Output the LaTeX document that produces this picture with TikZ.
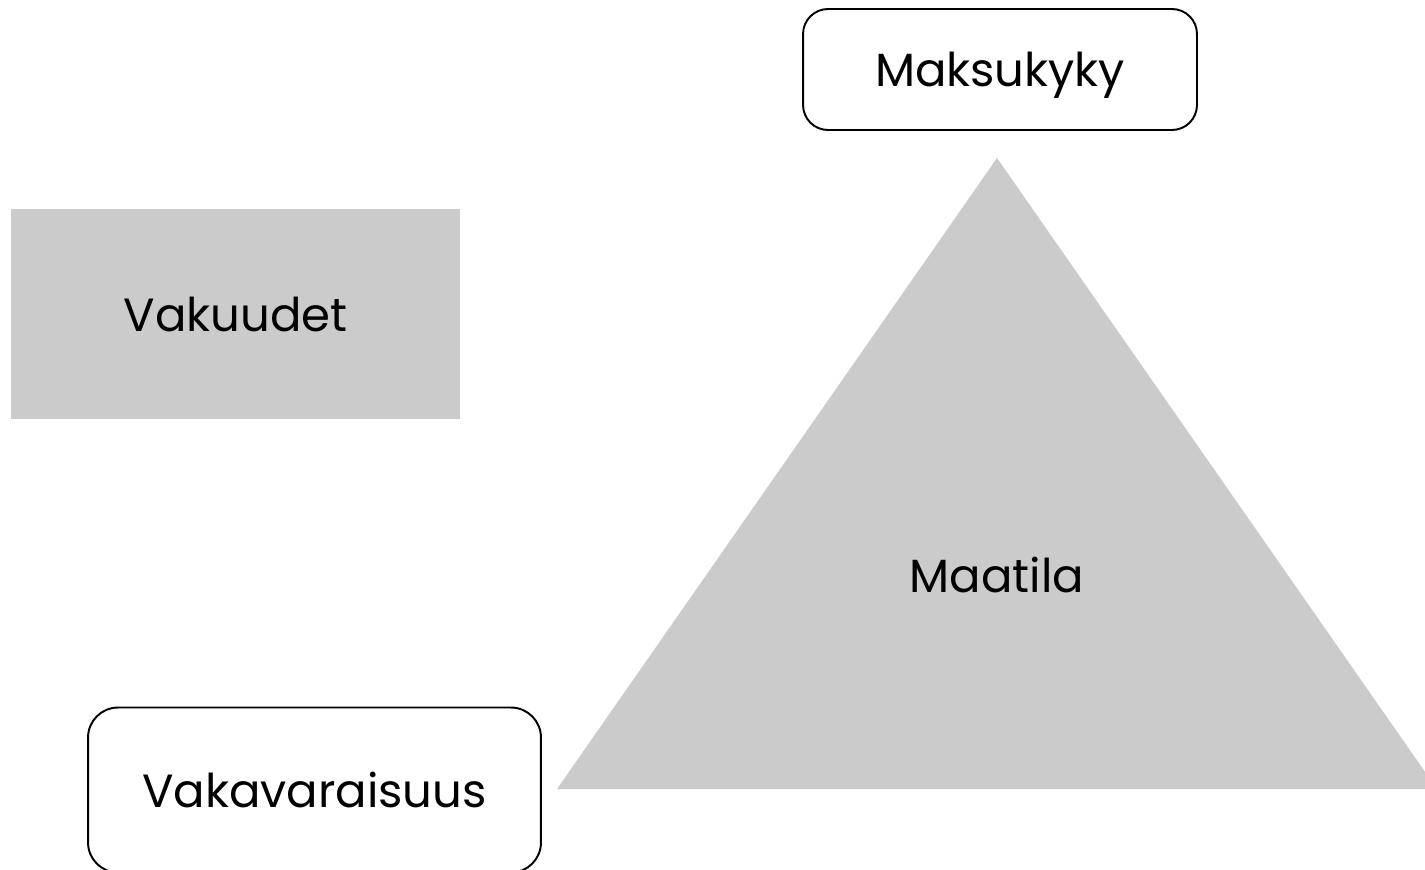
\documentclass[tikz,border=0pt]{standalone}
\usepackage{fontspec}
\setmainfont{Poppins}

\begin{document}
\begin{tikzpicture}[x=0.02cm,y=-0.02cm,
	roundbox/.style={draw=black, line width=1.1pt, fill=white, rounded corners=0.5cm, inner sep=0pt},
	greybox/.style={fill=boxgrey, inner sep=0pt},
	label/.style={font=\fontsize{26.5}{32}\selectfont, text depth=0pt}]
	\definecolor{boxgrey}{HTML}{CBCBCB}
	\useasboundingbox (0,0) rectangle (1425,869);
	\clip (0,0) rectangle (1425,869);
	\fill [boxgrey] (997,158)--(1437,789)--(557,789)--cycle;
	\node [label] (farm) at(997,575) {Maatila};
	\node [roundbox, label, minimum width=7.88cm, minimum height=2.42cm] (pay) at(1000,69.5) {Maksukyky};
	\node [greybox, label, minimum width=8.98cm, minimum height=4.2cm] (coll) at(235.5,314) {Vakuudet};
	\node [roundbox, label, rounded corners=0.6cm, minimum width=9.06cm, minimum height=3.30cm] (solv) at(314.5,790) {Vakavaraisuus};
\end{tikzpicture}
\end{document}
